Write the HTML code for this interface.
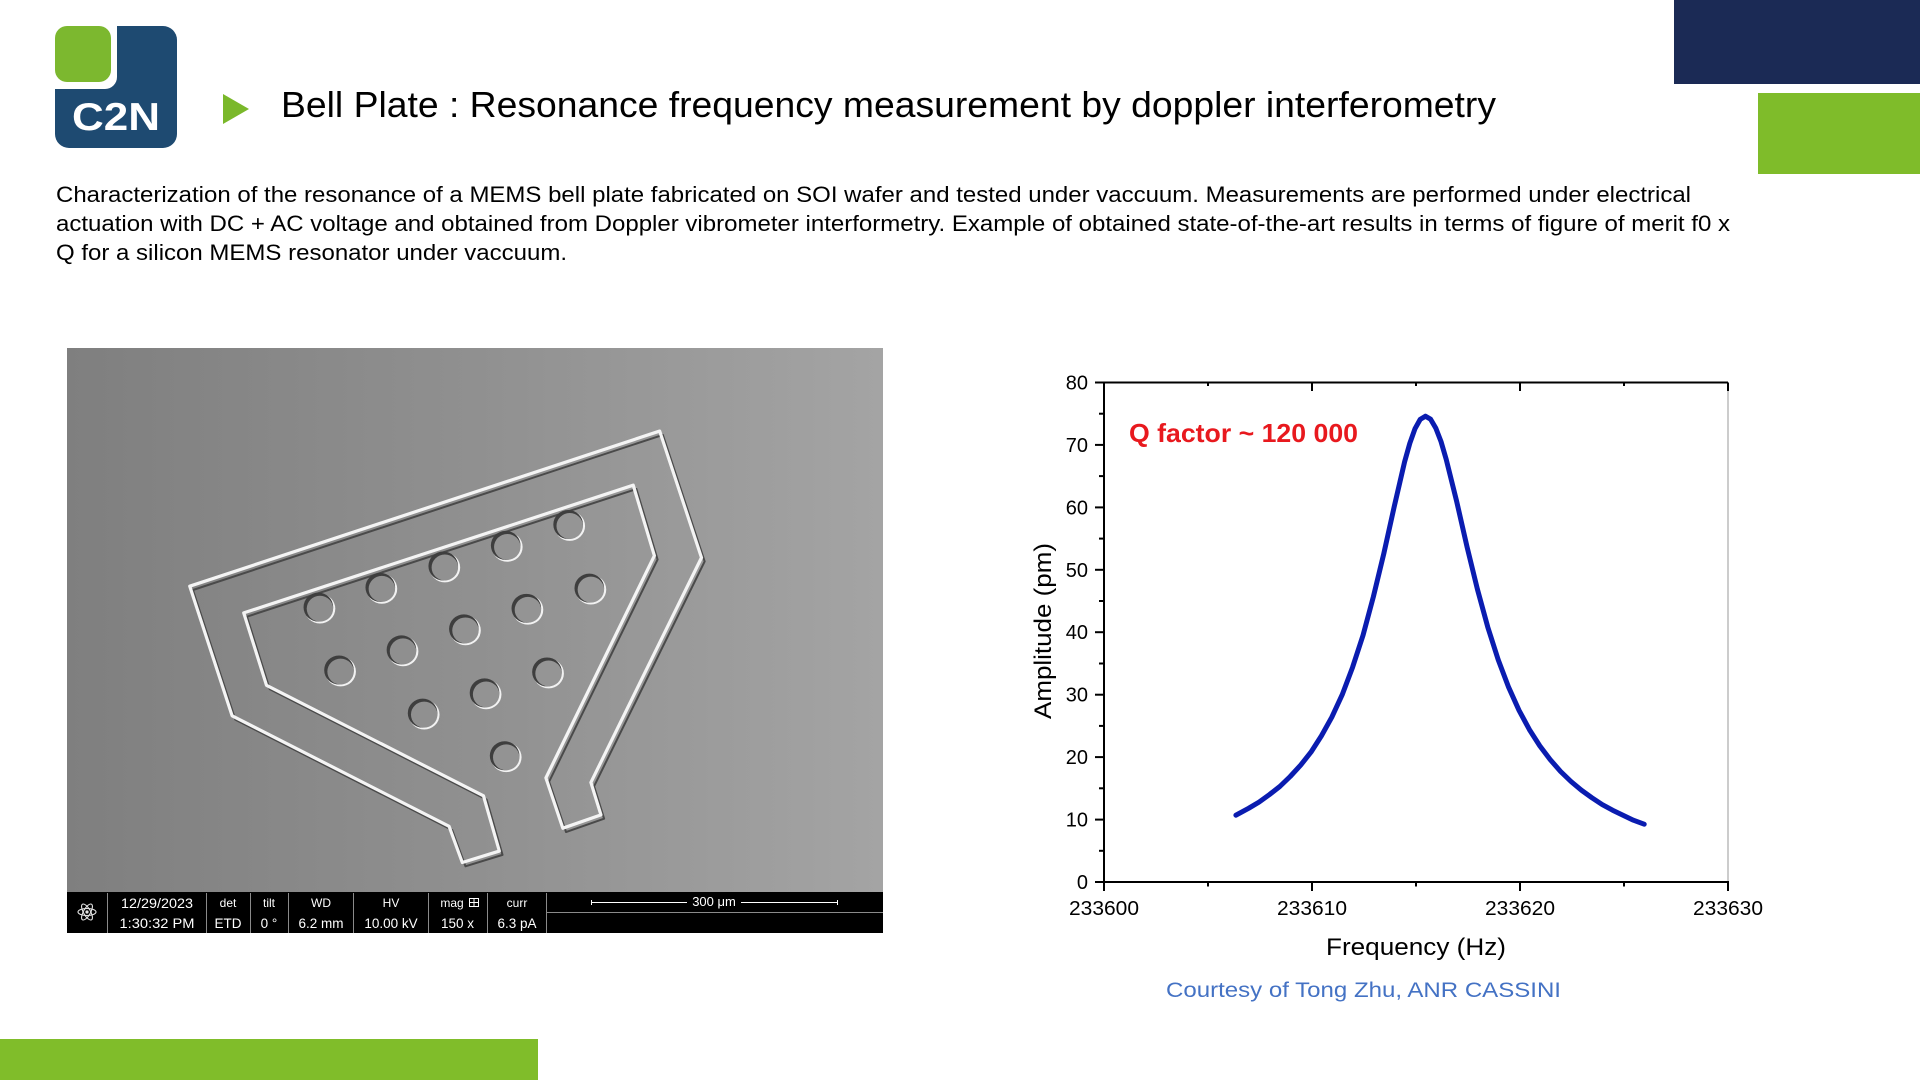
<!DOCTYPE html>
<html>
<head>
<meta charset="utf-8">
<style>
  html,body{margin:0;padding:0;background:#fff;}
  body{width:1920px;height:1080px;overflow:hidden;}
  svg{display:block;}
  text{font-family:"Liberation Sans", Arial, sans-serif;}
</style>
</head>
<body>
<svg width="1920" height="1080" viewBox="0 0 1920 1080" xmlns="http://www.w3.org/2000/svg">
  <defs>
    <linearGradient id="semBg" x1="0" y1="0" x2="1" y2="0">
      <stop offset="0" stop-color="#7f7f7f"/>
      <stop offset="0.5" stop-color="#909090"/>
      <stop offset="1" stop-color="#a4a4a4"/>
    </linearGradient>
  </defs>

  <!-- corner blocks -->
  <rect x="1674" y="0" width="246" height="84" fill="#1b2a55"/>
  <rect x="1758" y="93" width="162" height="81" fill="#7fbc2a"/>
  <rect x="0" y="1039" width="538" height="41" fill="#80bd2a"/>

  <!-- logo -->
  <rect x="55" y="26" width="122" height="122" rx="14" ry="14" fill="#1e4a71"/>
  <rect x="30" y="5" width="87" height="84" rx="12" ry="12" fill="#ffffff"/>
  <rect x="55" y="26" width="56" height="56" rx="12" ry="12" fill="#7cb82f"/>
  <text x="72" y="130" font-size="39" font-weight="bold" fill="#ffffff" textLength="88" lengthAdjust="spacingAndGlyphs">C2N</text>

  <!-- title -->
  <polygon points="223,94 249,109 223,124" fill="#7ab82a"/>
  <text x="281" y="117" font-size="36" fill="#000" textLength="1215" lengthAdjust="spacingAndGlyphs">Bell Plate : Resonance frequency measurement by doppler interferometry</text>

  <!-- paragraph -->
  <text x="56" y="202" font-size="22" fill="#000" textLength="1635" lengthAdjust="spacingAndGlyphs">Characterization of the resonance of a MEMS bell plate fabricated on SOI wafer and tested under vaccuum. Measurements are performed under electrical</text>
  <text x="56" y="231" font-size="22" fill="#000" textLength="1674" lengthAdjust="spacingAndGlyphs">actuation with DC + AC voltage and obtained from Doppler vibrometer interformetry. Example of obtained state-of-the-art results in terms of figure of merit f0 x</text>
  <text x="56" y="260" font-size="22" fill="#000" textLength="511" lengthAdjust="spacingAndGlyphs">Q for a silicon MEMS resonator under vaccuum.</text>

  <!-- SEM image -->
  <rect x="67" y="348" width="816" height="585" fill="url(#semBg)"/>
  <svg x="67" y="348" width="816" height="585" viewBox="13 20 1542 1535" preserveAspectRatio="none">
    <g transform="translate(6,10)">
      <polygon points="245,645 1133,238 1212,570 1003,1160 1022,1245 950,1280 918,1148 1123,565 1083,380 347,715 390,905 800,1195 830,1340 760,1370 735,1275 325,985" fill="none" stroke="#4a4a4a" stroke-width="2" vector-effect="non-scaling-stroke" stroke-linejoin="round"/>
    </g>
    <polygon points="245,645 1133,238 1212,570 1003,1160 1022,1245 950,1280 918,1148 1123,565 1083,380 347,715 390,905 800,1195 830,1340 760,1370 735,1275 325,985" fill="none" stroke="#f4f4f4" stroke-width="3.2" vector-effect="non-scaling-stroke" stroke-linejoin="round"/>
    <!-- holes -->
    <g>
      <ellipse cx="491" cy="704" rx="29" ry="39" fill="#f2f2f2"/><ellipse cx="488" cy="700" rx="28" ry="38" fill="#3e3e3e"/><ellipse cx="491" cy="704" rx="25" ry="34" fill="#8d8d8d"/>
      <ellipse cx="608" cy="652" rx="29" ry="39" fill="#f2f2f2"/><ellipse cx="605" cy="648" rx="28" ry="38" fill="#3e3e3e"/><ellipse cx="608" cy="652" rx="25" ry="34" fill="#8f8f8f"/>
      <ellipse cx="727" cy="596" rx="29" ry="39" fill="#f2f2f2"/><ellipse cx="724" cy="592" rx="28" ry="38" fill="#3e3e3e"/><ellipse cx="727" cy="596" rx="25" ry="34" fill="#919191"/>
      <ellipse cx="845" cy="542" rx="29" ry="39" fill="#f2f2f2"/><ellipse cx="842" cy="538" rx="28" ry="38" fill="#3e3e3e"/><ellipse cx="845" cy="542" rx="25" ry="34" fill="#939393"/>
      <ellipse cx="963" cy="487" rx="29" ry="39" fill="#f2f2f2"/><ellipse cx="960" cy="483" rx="28" ry="38" fill="#3e3e3e"/><ellipse cx="963" cy="487" rx="25" ry="34" fill="#959595"/>
      <ellipse cx="1003" cy="654" rx="29" ry="39" fill="#f2f2f2"/><ellipse cx="1000" cy="650" rx="28" ry="38" fill="#3e3e3e"/><ellipse cx="1003" cy="654" rx="25" ry="34" fill="#979797"/>
      <ellipse cx="884" cy="707" rx="29" ry="39" fill="#f2f2f2"/><ellipse cx="881" cy="703" rx="28" ry="38" fill="#3e3e3e"/><ellipse cx="884" cy="707" rx="25" ry="34" fill="#949494"/>
      <ellipse cx="766" cy="761" rx="29" ry="39" fill="#f2f2f2"/><ellipse cx="763" cy="757" rx="28" ry="38" fill="#3e3e3e"/><ellipse cx="766" cy="761" rx="25" ry="34" fill="#929292"/>
      <ellipse cx="648" cy="816" rx="29" ry="39" fill="#f2f2f2"/><ellipse cx="645" cy="812" rx="28" ry="38" fill="#3e3e3e"/><ellipse cx="648" cy="816" rx="25" ry="34" fill="#8f8f8f"/>
      <ellipse cx="530" cy="869" rx="29" ry="39" fill="#f2f2f2"/><ellipse cx="527" cy="865" rx="28" ry="38" fill="#3e3e3e"/><ellipse cx="530" cy="869" rx="25" ry="34" fill="#8d8d8d"/>
      <ellipse cx="923" cy="874" rx="29" ry="39" fill="#f2f2f2"/><ellipse cx="920" cy="870" rx="28" ry="38" fill="#3e3e3e"/><ellipse cx="923" cy="874" rx="25" ry="34" fill="#959595"/>
      <ellipse cx="805" cy="929" rx="29" ry="39" fill="#f2f2f2"/><ellipse cx="802" cy="925" rx="28" ry="38" fill="#3e3e3e"/><ellipse cx="805" cy="929" rx="25" ry="34" fill="#939393"/>
      <ellipse cx="688" cy="982" rx="29" ry="39" fill="#f2f2f2"/><ellipse cx="685" cy="978" rx="28" ry="38" fill="#3e3e3e"/><ellipse cx="688" cy="982" rx="25" ry="34" fill="#909090"/>
      <ellipse cx="843" cy="1094" rx="29" ry="39" fill="#f2f2f2"/><ellipse cx="840" cy="1090" rx="28" ry="38" fill="#3e3e3e"/><ellipse cx="843" cy="1094" rx="25" ry="34" fill="#939393"/>
    </g>
  </svg>

  <!-- SEM info bar -->
  <rect x="67" y="892" width="816" height="41" fill="#000"/>
  <g stroke="#8a8a8a" stroke-width="1">
    <line x1="107.5" y1="893" x2="107.5" y2="933"/>
    <line x1="206.5" y1="893" x2="206.5" y2="933"/>
    <line x1="250.5" y1="893" x2="250.5" y2="933"/>
    <line x1="288.5" y1="893" x2="288.5" y2="933"/>
    <line x1="353.5" y1="893" x2="353.5" y2="933"/>
    <line x1="428.5" y1="893" x2="428.5" y2="933"/>
    <line x1="487.5" y1="893" x2="487.5" y2="933"/>
    <line x1="546.5" y1="893" x2="546.5" y2="933"/>
    <line x1="546.5" y1="912.5" x2="883" y2="912.5"/>
  </g>
  <!-- atom icon -->
  <g fill="none" stroke="#e6e6e6" stroke-width="1.1">
    <ellipse cx="87" cy="912" rx="9" ry="3.5"/>
    <ellipse cx="87" cy="912" rx="9" ry="3.5" transform="rotate(60 87 912)"/>
    <ellipse cx="87" cy="912" rx="9" ry="3.5" transform="rotate(120 87 912)"/>
  </g>
  <circle cx="87" cy="912" r="1.6" fill="#e6e6e6"/>
  <g fill="#fff" text-anchor="middle">
    <text x="157" y="908" font-size="13.5" textLength="72" lengthAdjust="spacingAndGlyphs">12/29/2023</text>
    <text x="157" y="928" font-size="13.5" textLength="75" lengthAdjust="spacingAndGlyphs">1:30:32 PM</text>
    <text x="228" y="907" font-size="12">det</text>
    <text x="228" y="928" font-size="13.5">ETD</text>
    <text x="269" y="907" font-size="12">tilt</text>
    <text x="269" y="928" font-size="13.5">0 °</text>
    <text x="321" y="907" font-size="12">WD</text>
    <text x="321" y="928" font-size="13.5">6.2 mm</text>
    <text x="391" y="907" font-size="12">HV</text>
    <text x="391" y="928" font-size="13.5">10.00 kV</text>
    <text x="452" y="907" font-size="12">mag</text>
    <text x="457.5" y="928" font-size="13.5">150 x</text>
    <text x="517" y="907" font-size="12">curr</text>
    <text x="517" y="928" font-size="13.5">6.3 pA</text>
    <text x="714" y="906" font-size="13">300 μm</text>
  </g>
  <g fill="none" stroke="#fff" stroke-width="1">
    <rect x="469.5" y="898.5" width="9" height="8"/>
    <line x1="474" y1="898.5" x2="474" y2="906.5"/>
    <line x1="469.5" y1="902.5" x2="478.5" y2="902.5"/>
    <line x1="591" y1="902.5" x2="687" y2="902.5"/>
    <line x1="741" y1="902.5" x2="838" y2="902.5"/>
    <line x1="591.5" y1="900" x2="591.5" y2="905"/>
    <line x1="837.5" y1="900" x2="837.5" y2="905"/>
  </g>

  <!-- CHART -->
  <line x1="1104" y1="382.5" x2="1728" y2="382.5" stroke="#000" stroke-width="2"/>
  <line x1="1728" y1="382.5" x2="1728" y2="882" stroke="#9a9a9a" stroke-width="1"/>
  <line x1="1104" y1="381.5" x2="1104" y2="883" stroke="#000" stroke-width="2"/>
  <line x1="1103" y1="882" x2="1729" y2="882" stroke="#000" stroke-width="2"/>
  <g stroke="#000" stroke-width="2">
    <line x1="1095" y1="882" x2="1104" y2="882"/>
    <line x1="1095" y1="819.6" x2="1104" y2="819.6"/>
    <line x1="1095" y1="757.1" x2="1104" y2="757.1"/>
    <line x1="1095" y1="694.7" x2="1104" y2="694.7"/>
    <line x1="1095" y1="632.2" x2="1104" y2="632.2"/>
    <line x1="1095" y1="569.8" x2="1104" y2="569.8"/>
    <line x1="1095" y1="507.4" x2="1104" y2="507.4"/>
    <line x1="1095" y1="444.9" x2="1104" y2="444.9"/>
    <line x1="1095" y1="382.5" x2="1104" y2="382.5"/>
    <line x1="1099" y1="850.8" x2="1104" y2="850.8"/>
    <line x1="1099" y1="788.3" x2="1104" y2="788.3"/>
    <line x1="1099" y1="725.9" x2="1104" y2="725.9"/>
    <line x1="1099" y1="663.5" x2="1104" y2="663.5"/>
    <line x1="1099" y1="601" x2="1104" y2="601"/>
    <line x1="1099" y1="538.6" x2="1104" y2="538.6"/>
    <line x1="1099" y1="476.1" x2="1104" y2="476.1"/>
    <line x1="1099" y1="413.7" x2="1104" y2="413.7"/>
    <line x1="1104" y1="882" x2="1104" y2="891"/>
    <line x1="1312" y1="882" x2="1312" y2="891"/>
    <line x1="1520" y1="882" x2="1520" y2="891"/>
    <line x1="1728" y1="882" x2="1728" y2="891"/>
    <line x1="1208" y1="882" x2="1208" y2="886.5"/>
    <line x1="1416" y1="882" x2="1416" y2="886.5"/>
    <line x1="1624" y1="882" x2="1624" y2="886.5"/>
    <line x1="1312" y1="382.5" x2="1312" y2="391"/>
    <line x1="1520" y1="382.5" x2="1520" y2="391"/>
    <line x1="1728" y1="382.5" x2="1728" y2="391"/>
    <line x1="1208" y1="382.5" x2="1208" y2="386"/>
    <line x1="1416" y1="382.5" x2="1416" y2="386"/>
    <line x1="1624" y1="382.5" x2="1624" y2="386"/>
  </g>
  <g font-size="20" fill="#000" text-anchor="end">
    <text x="1088" y="889">0</text>
    <text x="1088" y="826.6">10</text>
    <text x="1088" y="764.1">20</text>
    <text x="1088" y="701.7">30</text>
    <text x="1088" y="639.2">40</text>
    <text x="1088" y="576.8">50</text>
    <text x="1088" y="514.4">60</text>
    <text x="1088" y="451.9">70</text>
    <text x="1088" y="389.5">80</text>
  </g>
  <g font-size="20" fill="#000" text-anchor="middle">
    <text x="1104" y="915" textLength="70" lengthAdjust="spacingAndGlyphs">233600</text>
    <text x="1312" y="915" textLength="70" lengthAdjust="spacingAndGlyphs">233610</text>
    <text x="1520" y="915" textLength="70" lengthAdjust="spacingAndGlyphs">233620</text>
    <text x="1728" y="915" textLength="70" lengthAdjust="spacingAndGlyphs">233630</text>
  </g>
  <text x="1326" y="955" font-size="24" fill="#000" textLength="180" lengthAdjust="spacingAndGlyphs">Frequency (Hz)</text>
  <text transform="translate(1051,631) rotate(-90)" text-anchor="middle" font-size="24" fill="#000" textLength="176" lengthAdjust="spacingAndGlyphs">Amplitude (pm)</text>

  <polyline fill="none" stroke="#0a1cb0" stroke-width="5" stroke-linejoin="round" stroke-linecap="round"
    points="1235.9,815.2 1238.2,813.9 1248.6,808.3 1259.0,802.1 1269.4,794.6 1279.8,786.5 1290.2,776.5 1300.6,765.2 1311.0,752.1 1321.4,735.9 1331.8,717.2 1342.2,694.7 1352.6,667.2 1363.0,635.4 1373.4,596.6 1383.8,553.6 1394.2,506.7 1404.6,461.8 1409.8,443.3 1415.0,428.7 1420.2,419.4 1425.4,416.2 1430.6,419.2 1435.8,428.1 1441.0,441.5 1446.2,459.3 1456.6,501.1 1467.0,546.7 1477.4,589.2 1487.8,627.2 1498.2,659.7 1508.6,687.2 1519.0,710.3 1529.4,729.6 1539.8,745.9 1550.2,759.6 1560.6,771.5 1571.0,781.5 1581.4,790.2 1591.8,797.7 1602.2,804.6 1612.6,810.2 1623.0,815.2 1633.4,820.2 1644.2,824.2"/>

  <text x="1129" y="442" font-size="26" font-weight="bold" fill="#e8191e" textLength="229" lengthAdjust="spacingAndGlyphs">Q factor ~ 120 000</text>

  <text x="1166" y="997" font-size="21" fill="#4472c4" textLength="395" lengthAdjust="spacingAndGlyphs">Courtesy of Tong Zhu, ANR CASSINI</text>
</svg>
</body>
</html>
